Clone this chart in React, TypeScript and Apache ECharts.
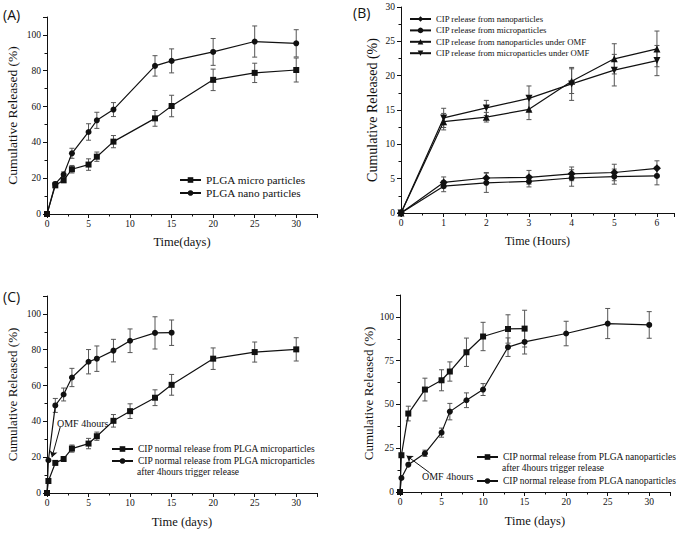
import React, { useEffect, useRef } from 'react';
import * as echarts from 'echarts';

const SERIF = "'Liberation Serif', 'Times New Roman', serif";
const SANS = "'Open Sans', 'Liberation Sans', sans-serif";

// ---------- Panel A (days) ----------
const daysA = [0, 1, 2, 3, 5, 6, 8, 13, 15, 20, 25, 30];
const microA = [0, 16, 18.8, 25, 27.6, 32, 40.4, 53.4, 60.3, 74.9, 78.8, 80.4];
const microAErr = [0, 1, 1.2, 2.1, 3.2, 2.6, 3.4, 4.4, 6, 6, 5.4, 6.7];
const nanoA = [0, 16.8, 22, 33.9, 45.8, 52.3, 58.3, 82.7, 85.5, 90.5, 96.3, 95.3];
const nanoAErr = [0, 1, 1.5, 2.8, 4.6, 4.5, 3.9, 5.7, 6.7, 7.5, 8.7, 7.6];

// ---------- Panel B (hours) ----------
const hoursB = [0, 1, 2, 3, 4, 5, 6];
const nanoB = [0, 4.45, 5.1, 5.2, 5.7, 5.9, 6.5];
const nanoBErr = [0, 0.8, 0.8, 1.0, 1.0, 1.2, 1.1];
const microB = [0, 3.9, 4.4, 4.6, 5.1, 5.3, 5.4];
const microBErr = [0, 0.8, 1.4, 0.8, 1.2, 1.1, 1.3];
const nanoOmfB = [0, 13.3, 13.95, 15.1, 19.2, 22.45, 23.9];
const nanoOmfBErr = [0, 1.2, 0.7, 1.5, 1.8, 2.2, 2.6];
const microOmfB = [0, 13.85, 15.3, 16.7, 18.8, 20.8, 22.2];
const microOmfBErr = [0, 1.4, 1.1, 1.8, 2.4, 2.3, 2.2];

// ---------- Panel C (days) ----------
const daysCMicro = [0, 0.17, 1, 2, 3, 5, 6, 8, 10, 13, 15, 20, 25, 30];
const microC = [0, 6.7, 16.8, 19, 24.8, 27.6, 31.7, 40.3, 45.7, 53.2, 60.4, 75, 78.7, 80.2];
const microCErr = [0, 0, 0, 1, 2, 2.9, 2.3, 3.5, 4.1, 4.4, 5.8, 6, 5.6, 6.5];
const daysCTrig = [0, 0.17, 1, 2, 3, 5, 6, 8, 10, 13, 15];
const trigC = [0, 18.3, 48.9, 55, 64.5, 73.3, 75, 79.5, 85, 89.4, 89.5];
const trigCErr = [0, 0, 3.9, 3.6, 5.1, 6.8, 7.1, 6.3, 6.6, 9, 7.1];

// ---------- Panel D (days) ----------
const daysDTrig = [0, 0.17, 1, 3, 5, 6, 8, 10, 13, 15];
const trigD = [0, 21, 44.8, 58.5, 63.8, 68.8, 79.8, 88.8, 93.1, 93.3];
const trigDErr = [0, 0, 4.2, 6.5, 6, 5.5, 8.1, 8.1, 8.1, 10.5];
const daysDNano = [0, 0.17, 1, 3, 5, 6, 8, 10, 13, 15, 20, 25, 30];
const nanoD = [0, 8, 15.6, 22.1, 33.9, 45.9, 52.4, 58.5, 82.7, 85.7, 90.5, 96.2, 95.4];
const nanoDErr = [0, 0, 0, 1.8, 2.6, 4.7, 4.2, 3.4, 5.3, 6.9, 7, 8.6, 7.6];

// ---------- names ----------
const NAME_A1 = 'PLGA micro particles';
const NAME_A2 = 'PLGA nano particles';
const NAME_B1 = 'CIP release from nanoparticles';
const NAME_B2 = 'CIP release from microparticles';
const NAME_B3 = 'CIP release from nanoparticles under OMF';
const NAME_B4 = 'CIP release from microparticles under OMF';
const NAME_C1 = 'CIP normal release from PLGA microparticles';
const NAME_C2 = 'CIP normal release from PLGA microparticles\nafter 4hours trigger release';
const NAME_D1 = 'CIP normal release from PLGA nanoparticles\nafter 4hours trigger release';
const NAME_D2 = 'CIP normal release from PLGA nanoparticles';
const TRIGGER_LINE = 'after 4hours trigger release';
const OMF_NOTE = 'OMF 4hours';

const INK = '#111';

function pairs(xs: number[], ys: number[]) {
  return xs.map((x, i) => [x, ys[i]]);
}
function errData(xs: number[], ys: number[], es: number[]) {
  const out: number[][] = [];
  xs.forEach((x, i) => {
    if (es[i] > 0) out.push([x, ys[i] - es[i], ys[i] + es[i]]);
  });
  return out;
}

function lineSeries(name: string, idx: number, data: number[][], symbol: string, size: number, rotate = 0, extra: any = {}) {
  return {
    type: 'line',
    name,
    xAxisIndex: idx,
    yAxisIndex: idx,
    data,
    symbol,
    symbolSize: size,
    symbolRotate: rotate,
    showSymbol: true,
    lineStyle: { color: INK, width: 1.2 },
    itemStyle: { color: INK, borderWidth: 0 },
    z: 3,
    ...extra,
  };
}

function errSeries(idx: number, key: string, data: number[][]) {
  return {
    type: 'custom',
    name: 'err_' + key,
    xAxisIndex: idx,
    yAxisIndex: idx,
    data,
    encode: { x: 0, y: [1, 2] },
    z: 2,
    silent: true,
    renderItem: (params: any, api: any) => {
      const x = api.value(0);
      const top = api.coord([x, api.value(2)]);
      const bot = api.coord([x, api.value(1)]);
      const w = 2.5;
      const st = { stroke: '#555', lineWidth: 1 };
      return {
        type: 'group',
        children: [
          { type: 'line', shape: { x1: top[0], y1: top[1], x2: bot[0], y2: bot[1] }, style: st },
          { type: 'line', shape: { x1: top[0] - w, y1: top[1], x2: top[0] + w, y2: top[1] }, style: st },
          { type: 'line', shape: { x1: bot[0] - w, y1: bot[1], x2: bot[0] + w, y2: bot[1] }, style: st },
        ],
      };
    },
  };
}

const isMultiple = (v: number, step: number) => Math.abs(v / step - Math.round(v / step)) < 1e-6;

function axisBase(idx: number, max: number, interval: number, name: string, nameGap: number, nameSize: number, margin: number) {
  return {
    type: 'value',
    gridIndex: idx,
    min: 0,
    max,
    interval,
    name,
    nameLocation: 'middle',
    nameGap,
    nameTextStyle: { fontFamily: SERIF, fontSize: nameSize, color: INK },
    axisLine: { show: true, onZero: false, lineStyle: { color: INK, width: 1 } },
    axisTick: { show: true, length: 4, lineStyle: { color: INK } },
    minorTick: { show: true, splitNumber: 2, length: 2.5, lineStyle: { color: INK } },
    splitLine: { show: false },
    minorSplitLine: { show: false },
    axisLabel: {
      fontFamily: SERIF,
      fontSize: 9.5,
      color: INK,
      margin,
      formatter: (v: number) => (isMultiple(v, interval) ? String(v) : ''),
    },
  };
}

function legend(names: string[], left: number, top: number, fontSize: number, lineHeight: number, itemGap: number) {
  return {
    data: names,
    left,
    top,
    orient: 'vertical',
    padding: 0,
    itemWidth: 21,
    itemHeight: 7,
    itemGap,
    selectedMode: false,
    formatter: (n: string) => n.split('\n')[0],
    textStyle: { fontFamily: SERIF, fontSize, color: INK, lineHeight },
  };
}

const arrowLine = (from: number[], to: number[]) => ({
  silent: true,
  symbol: ['none', 'arrow'],
  symbolSize: 6,
  lineStyle: { color: INK, width: 1, type: 'solid' },
  label: { show: false },
  data: [[{ coord: from }, { coord: to }]],
});

const txt = (text: string, left: number, top: number, font: string) => ({
  type: 'text',
  left,
  top,
  silent: true,
  style: { text, font, fill: INK },
});

export default function App() {
  const ref = useRef<HTMLDivElement>(null);
  useEffect(() => {
    if (!ref.current) return;
    const chart = echarts.init(ref.current, null, { renderer: 'svg' });
    const option: any = {
      animation: false,
      backgroundColor: '#fff',
      grid: [
        { left: 47, top: 17, width: 270, height: 197 },
        { left: 401, top: 7, width: 273, height: 206 },
        { left: 47, top: 296, width: 270, height: 197 },
        { left: 400, top: 295, width: 270, height: 197 },
      ],
      xAxis: [
        axisBase(0, 32.5, 5, 'Time(days)', 21, 12.5, 5),
        axisBase(1, 6.4, 1, 'Time (Hours)', 22, 12, 5),
        axisBase(2, 32.5, 5, 'Time (days)', 22, 12.5, 5),
        axisBase(3, 32.5, 5, 'Time (days)', 22, 12.5, 5),
      ],
      yAxis: [
        axisBase(0, 110, 20, 'Cumulative Released (%)', 28, 13.5, 6),
        axisBase(1, 30, 5, 'Cumulative Released (%)', 22, 14, 6),
        axisBase(2, 110, 20, 'Cumulative Released (%)', 28, 13, 6),
        axisBase(3, 112.5, 25, 'Cumulative Released (%)', 25, 13, 6),
      ],
      legend: [
        legend([NAME_A1, NAME_A2], 179, 173.5, 11.3, 13, 0),
        legend([NAME_B1, NAME_B2, NAME_B3, NAME_B4], 409, 13.3, 8.7, 11.4, 0),
        legend([NAME_C1, NAME_C2], 111, 443, 9.5, 12, 0),
        legend([NAME_D1, NAME_D2], 476, 451, 9.5, 12, 12),
      ],
      graphic: [
        txt('(A)', 3, 7, '14px ' + SANS),
        txt('(B)', 353, 5, '14px ' + SANS),
        txt('(C)', 3, 289, '14px ' + SANS),
        txt(TRIGGER_LINE, 137, 467, '9.5px ' + SERIF),
        txt(TRIGGER_LINE, 502, 463, '9.5px ' + SERIF),
        txt(OMF_NOTE, 57, 418, '10px ' + SERIF),
        txt(OMF_NOTE, 422, 471, '10px ' + SERIF),
      ],
      series: [
        // A
        errSeries(0, 'a1', errData(daysA, microA, microAErr)),
        errSeries(0, 'a2', errData(daysA, nanoA, nanoAErr)),
        lineSeries(NAME_A1, 0, pairs(daysA, microA), 'rect', 6),
        lineSeries(NAME_A2, 0, pairs(daysA, nanoA), 'circle', 6),
        // B
        errSeries(1, 'b1', errData(hoursB, nanoB, nanoBErr)),
        errSeries(1, 'b2', errData(hoursB, microB, microBErr)),
        errSeries(1, 'b3', errData(hoursB, nanoOmfB, nanoOmfBErr)),
        errSeries(1, 'b4', errData(hoursB, microOmfB, microOmfBErr)),
        lineSeries(NAME_B1, 1, pairs(hoursB, nanoB), 'diamond', 8),
        lineSeries(NAME_B2, 1, pairs(hoursB, microB), 'circle', 6),
        lineSeries(NAME_B3, 1, pairs(hoursB, nanoOmfB), 'triangle', 7),
        lineSeries(NAME_B4, 1, pairs(hoursB, microOmfB), 'triangle', 7, 180),
        // C
        errSeries(2, 'c1', errData(daysCMicro, microC, microCErr)),
        errSeries(2, 'c2', errData(daysCTrig, trigC, trigCErr)),
        lineSeries(NAME_C1, 2, pairs(daysCMicro, microC), 'rect', 6),
        lineSeries(NAME_C2, 2, pairs(daysCTrig, trigC), 'circle', 6, 0, {
          markLine: arrowLine([1.6, 37], [0.6, 20]),
        }),
        // D
        errSeries(3, 'd1', errData(daysDTrig, trigD, trigDErr)),
        errSeries(3, 'd2', errData(daysDNano, nanoD, nanoDErr)),
        lineSeries(NAME_D1, 3, pairs(daysDTrig, trigD), 'rect', 6, 0, {
          markLine: arrowLine([3.57, 11], [0.8, 20.7]),
        }),
        lineSeries(NAME_D2, 3, pairs(daysDNano, nanoD), 'circle', 6),
      ],
    };
    chart.setOption(option);
    return () => chart.dispose();
  }, []);
  return <div ref={ref} style={{ width: 683, height: 533, position: 'absolute', left: 0, top: 0 }} />;
}
